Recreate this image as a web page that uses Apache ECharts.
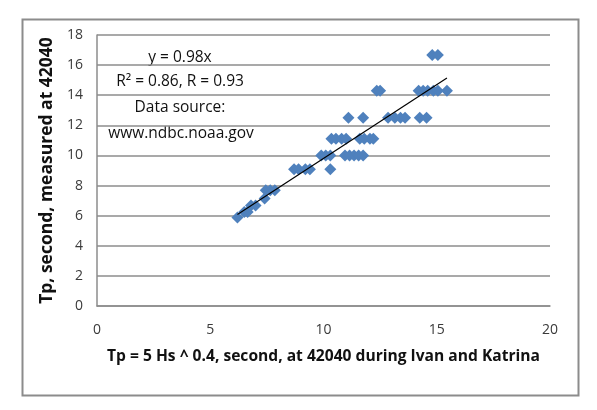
<!DOCTYPE html>
<html>
<head>
<meta charset="utf-8">
<script src="https://cdn.jsdelivr.net/npm/echarts@6/dist/echarts.min.js"></script>
<style>
html,body{margin:0;padding:0;background:#fff;}
#chart{width:597px;height:410px;}
</style>
</head>
<body>
<div id="chart"></div>
<script>
// Tp measured (y) by discrete period levels, with x = 5 Hs^0.4 estimates
var tp588 = [6.2];
var tp625 = [6.5, 6.65];
var tp667 = [6.8, 7.0];
var tp714 = [7.4];
var tp769 = [7.45, 7.65, 7.85];
var tp909 = [8.7, 8.9, 9.2, 9.4, 10.3];
var tp1000 = [9.9, 10.1, 10.3, 10.95, 11.15, 11.35, 11.55, 11.75];
var tp1111 = [10.35, 10.55, 10.8, 11.0, 11.6, 11.8, 12.05, 12.2];
var tp1250 = [11.1, 11.75, 12.85, 13.15, 13.4, 13.6, 14.25, 14.55];
var tp1429 = [12.35, 12.5, 14.2, 14.4, 14.6, 14.85, 15.05, 15.45];
var tp1667 = [14.8, 15.05];
var levels = [5.88, 6.25, 6.67, 7.14, 7.69, 9.09, 10.0, 11.11, 12.5, 14.29, 16.67];
var groups = [tp588, tp625, tp667, tp714, tp769, tp909, tp1000, tp1111, tp1250, tp1429, tp1667];
var slope = 0.98;
var trendX = [6.2, 15.45];
var xTicks = [0, 5, 10, 15, 20];
var yTicks = [0, 2, 4, 6, 8, 10, 12, 14, 16, 18];
var notes = ['y = 0.98x', 'R\u00b2 = 0.86, R = 0.93', 'Data source:', 'www.ndbc.noaa.gov'];

var points = [];
groups.forEach(function (g, i) { g.forEach(function (x) { points.push([x, levels[i]]); }); });
var trend = trendX.map(function (x) { return [x, slope * x]; });

var chart = echarts.init(document.getElementById('chart'));
var font = '"Open Sans", sans-serif';
chart.setOption({
  animation: false,
  grid: { left: 97, right: 47, top: 35, bottom: 104 },
  xAxis: {
    type: 'value', min: xTicks[0], max: xTicks[xTicks.length - 1], interval: 5,
    name: 'Tp = 5 Hs ^ 0.4, second, at 42040 during Ivan and Katrina',
    nameLocation: 'middle', nameGap: 43,
    nameTextStyle: { fontFamily: font, fontWeight: 'bold', fontSize: 15.6, color: '#111' },
    axisLine: { show: true, lineStyle: { color: '#8c8c8c', width: 1.5 } },
    axisTick: { show: false },
    splitLine: { show: false },
    axisLabel: { fontFamily: font, fontSize: 14, color: '#3a3a3a', margin: 17 }
  },
  yAxis: {
    type: 'value', min: yTicks[0], max: yTicks[yTicks.length - 1], interval: 2,
    name: 'Tp, second, measured at 42040',
    nameLocation: 'middle', nameGap: 40,
    nameTextStyle: { fontFamily: font, fontWeight: 'bold', fontSize: 17.5, color: '#111' },
    axisLine: { show: true, lineStyle: { color: '#8c8c8c', width: 1.5 } },
    axisTick: { show: false },
    splitLine: { show: true, lineStyle: { color: '#8c8c8c', width: 1.5 } },
    axisLabel: { fontFamily: font, fontSize: 14, color: '#3a3a3a', margin: 14 }
  },
  graphic: [
    { type: 'rect', left: 20, top: 17, shape: { width: 556, height: 376 },
      style: { fill: 'none', stroke: '#8c8c8c', lineWidth: 2 }, z: -1 },
    { type: 'text', x: 180, y: 58, style: { text: notes[0], font: '15.5px ' + font, fill: '#111', align: 'center', verticalAlign: 'middle' } },
    { type: 'text', x: 180, y: 82, style: { text: notes[1], font: '15.5px ' + font, fill: '#111', align: 'center', verticalAlign: 'middle' } },
    { type: 'text', x: 180, y: 108, style: { text: notes[2], font: '15.5px ' + font, fill: '#111', align: 'center', verticalAlign: 'middle' } },
    { type: 'text', x: 181, y: 134, style: { text: notes[3], font: '15.5px ' + font, fill: '#111', align: 'center', verticalAlign: 'middle' } }
  ],
  series: [
    { type: 'scatter', data: points, symbol: 'diamond', symbolSize: 12,
      itemStyle: { color: '#4f81bd', opacity: 1 }, z: 2 },
    { type: 'line', data: trend, symbol: 'none', lineStyle: { color: '#000', width: 1.2 }, z: 3 }
  ]
});
</script>
</body>
</html>
